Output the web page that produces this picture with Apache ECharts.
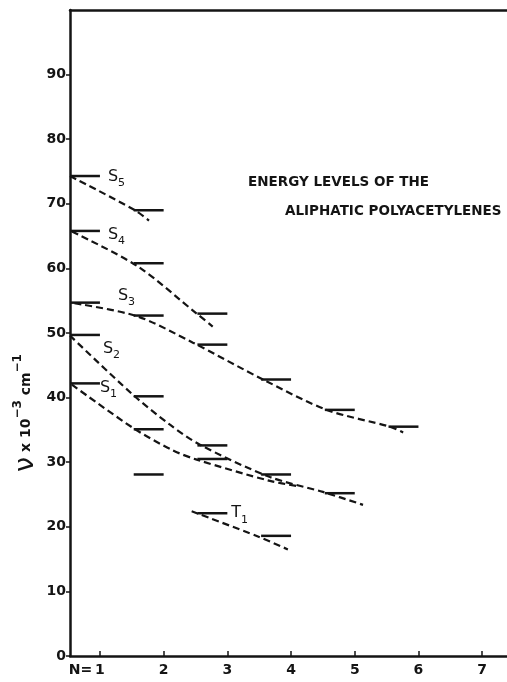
<!DOCTYPE html>
<html>
<head>
<meta charset="utf-8">
<title>Energy levels of the aliphatic polyacetylenes</title>
<script src="https://cdn.jsdelivr.net/npm/echarts@6/dist/echarts.min.js"></script>
<style>
  html, body { margin: 0; padding: 0; background: #fff; }
  #chart { width: 507px; height: 682px; }
</style>
</head>
<body>
<div id="chart"></div>
<script>
// level bars: [N, energy (10^3 cm^-1)]
const s5Levels = [[1, 74.3], [2, 69.0]];
const s4Levels = [[1, 65.8], [2, 60.8], [3, 53.0]];
const s3Levels = [[1, 54.7], [2, 52.7], [3, 48.2], [4, 42.8], [5, 38.1], [6, 35.5]];
const s2Levels = [[1, 49.7], [2, 40.2], [3, 32.6], [4, 28.1], [5, 25.2]];
const s1Levels = [[1, 42.2], [2, 35.1], [3, 30.5], [2, 28.1]];
const t1Levels = [[3, 22.1], [4, 18.6]];

// dashed trend curves
const s5Curve = [[0.53, 74.3], [1.55, 69.0], [1.77, 67.4]];
const s4Curve = [[0.56, 65.7], [1.58, 60.4], [2.52, 53.0], [2.77, 51.0]];
const s3Curve = [[0.6, 54.6], [1.58, 52.6], [2.46, 48.5], [3.56, 42.8], [4.56, 38.1], [5.55, 35.5], [5.76, 34.6]];
const s2Curve = [[0.53, 49.6], [1.5, 40.6], [2.1, 35.8], [2.57, 32.7], [3.67, 27.7], [4.5, 25.4], [5.13, 23.4]];
const s1Curve = [[0.56, 42.0], [1.52, 35.3], [2.13, 31.9], [2.52, 30.4], [3.67, 27.1], [4.1, 26.3]];
const t1Curve = [[2.44, 22.4], [3.48, 18.5], [3.95, 16.5]];

const stateNames = ['S5', 'S4', 'S3', 'S2', 'S1', 'T1'];
const xTickValues = [1, 2, 3, 4, 5, 6, 7];
const yTickValues = [0, 10, 20, 30, 40, 50, 60, 70, 80, 90];

const ink = '#141414';
const barSpan = 0.47;
// where each state name sits, relative to the right end of its first bar
const tagOffsets = { S5: [8, 1], S4: [8, 4], S3: [18, -7], S2: [3, 14], S1: [0, 4], T1: [4, 0] };

const chart = echarts.init(document.getElementById('chart'));

const allLevels = [].concat(s5Levels, s4Levels, s3Levels, s2Levels, s1Levels, t1Levels);
const firstLevels = [s5Levels, s4Levels, s3Levels, s2Levels, s1Levels, t1Levels];
const tagData = stateNames.map((name, i) => [firstLevels[i][0][0], firstLevels[i][0][1], name]);

function dashed(name, data) {
  return {
    name: name,
    type: 'line',
    data: data,
    smooth: 0.3,
    symbol: 'none',
    silent: true,
    lineStyle: { color: ink, width: 2.2, type: [7, 4] },
    z: 2
  };
}

chart.setOption({
  backgroundColor: '#fff',
  animation: false,
  textStyle: { fontFamily: 'DejaVu Sans' },
  grid: { left: 70, right: 0, top: 10, bottom: 26 },
  xAxis: [{
    type: 'value',
    min: 0.53,
    max: 7.39,
    splitLine: { show: false },
    axisLine: { lineStyle: { color: ink, width: 2.5 } },
    axisTick: {
      customValues: xTickValues,
      inside: true,
      length: 5,
      lineStyle: { color: ink, width: 1.5 }
    },
    axisLabel: {
      customValues: xTickValues,
      margin: 7,
      color: ink,
      fontSize: 14,
      fontWeight: 'bold',
      fontFamily: 'DejaVu Sans',
      formatter: function (v) {
        return v === 1 ? '{n|N=}{v|1}{p|}' : '{v|' + v + '}';
      },
      rich: {
        n: { width: 29, fontSize: 14, fontWeight: 'bold', color: ink },
        v: { fontSize: 14, fontWeight: 'bold', color: ink },
        p: { width: 29 }
      }
    }
  }, {
    type: 'value',
    position: 'top',
    min: 0.53,
    max: 7.39,
    splitLine: { show: false },
    axisTick: { show: false },
    axisLabel: { show: false },
    axisLine: { show: true, lineStyle: { color: ink, width: 2.5 } }
  }],
  yAxis: {
    type: 'value',
    min: 0,
    max: 100,
    interval: 10,
    splitLine: { show: false },
    axisLine: { lineStyle: { color: ink, width: 2.5 } },
    axisTick: {
      customValues: yTickValues,
      length: 4,
      lineStyle: { color: ink, width: 1.5 }
    },
    axisLabel: {
      customValues: yTickValues,
      margin: 4,
      color: ink,
      fontSize: 14,
      fontWeight: 'bold',
      fontFamily: 'DejaVu Sans'
    }
  },
  graphic: [{
    type: 'text',
    x: 248,
    y: 182,
    style: {
      text: 'ENERGY LEVELS OF THE',
      fill: ink,
      font: 'bold 13.5px "DejaVu Sans"',
      textVerticalAlign: 'middle'
    }
  }, {
    type: 'text',
    x: 285,
    y: 211,
    style: {
      text: 'ALIPHATIC POLYACETYLENES',
      fill: ink,
      font: 'bold 13.5px "DejaVu Sans"',
      textVerticalAlign: 'middle'
    }
  }, {
    type: 'text',
    x: 26,
    y: 413,
    rotation: Math.PI / 2,
    style: {
      text: '{nu|ν}{t| x 10}{sup|−3}{t| cm}{sup|−1}',
      align: 'center',
      verticalAlign: 'middle',
      fill: ink,
      rich: {
        nu: { fontSize: 27, fontFamily: 'DejaVu Sans', fill: ink, lineHeight: 28 },
        t: { fontSize: 14, fontWeight: 'bold', fontFamily: 'DejaVu Sans', fill: ink },
        sup: { fontSize: 12, fontWeight: 'bold', fontFamily: 'DejaVu Sans', fill: ink, verticalAlign: 'top' }
      }
    }
  }],
  series: [
    dashed('S5', s5Curve),
    dashed('S4', s4Curve),
    dashed('S3', s3Curve),
    dashed('S2', s2Curve),
    dashed('S1', s1Curve),
    dashed('T1', t1Curve),
    {
      name: 'levels',
      type: 'custom',
      data: allLevels,
      silent: true,
      z: 3,
      renderItem: function (params, api) {
        const n = api.value(0), v = api.value(1);
        const a = api.coord([n - barSpan, v]);
        const b = api.coord([n, v]);
        return {
          type: 'line',
          shape: { x1: a[0], y1: a[1], x2: b[0], y2: b[1] },
          style: { stroke: ink, lineWidth: 2.5 }
        };
      }
    },
    {
      name: 'tags',
      type: 'custom',
      data: tagData,
      silent: true,
      z: 4,
      renderItem: function (params, api) {
        const name = tagData[params.dataIndex][2];
        const p = api.coord([api.value(0), api.value(1)]);
        const off = tagOffsets[name];
        return {
          type: 'text',
          x: p[0] + off[0],
          y: p[1] + off[1],
          style: {
            text: '{s|' + name[0] + '}{sub|' + name.slice(1) + '}',
            verticalAlign: 'middle',
            fill: ink,
            rich: {
              s: { fontSize: 16, fontFamily: 'DejaVu Sans', fill: ink, lineHeight: 24 },
              sub: { fontSize: 11, fontFamily: 'DejaVu Sans', fill: ink, verticalAlign: 'bottom' }
            }
          }
        };
      }
    }
  ]
});
</script>
</body>
</html>
